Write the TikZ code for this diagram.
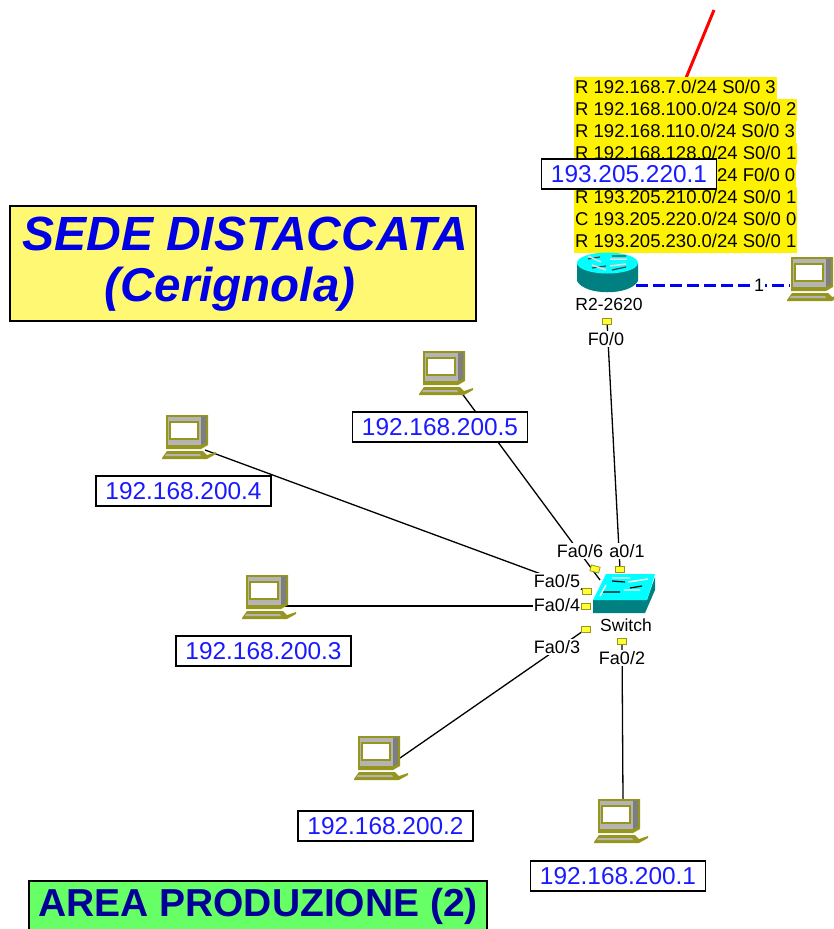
\documentclass[tikz,border=0pt]{standalone}
\usepackage{fontspec}
\setmainfont{Liberation Sans}
\definecolor{pcol}{HTML}{96961E}
\definecolor{pgray}{HTML}{B4B4B4}
\definecolor{teal2}{HTML}{008080}
\definecolor{cyan2}{HTML}{00FFFF}
\definecolor{port}{HTML}{FFFF33}
\definecolor{lblue}{HTML}{1A1AFF}
\tikzset{
  lbl/.style={draw=black,line width=1.6pt,fill=white,text=lblue,font=\fontsize{24.4}{24}\selectfont,minimum width=175pt,minimum height=30pt,inner sep=0pt},
  port label/.style={fill=white,inner sep=1pt,font=\fontsize{18}{18}\selectfont},
  small/.style={inner sep=0pt,font=\fontsize{17.5}{18}\selectfont},
  route/.style={fill=yellow,anchor=north west,inner sep=0pt,inner xsep=1pt,text height=16pt,text depth=6pt,font=\fontsize{18.5}{19}\selectfont},
  portsq/.style={draw=pcol,fill=port,line width=0.8pt,minimum width=9pt,minimum height=6pt,inner sep=0pt},
  wire/.style={line width=1.3pt,black},
  pc/.pic={
    \fill[pcol] (3,0)--(45,0)--(45,30)--(38,34)--(3,34)--cycle;
    \fill[pgray] (5,2)--(38,2)--(38,30)--(5,30)--cycle;
    \fill[pgray!70!black] (38,2)--(43,1)--(43,28)--(38,30)--cycle;
    \fill[pcol] (6,6) rectangle (36,25);
    \fill[white] (8,8) rectangle (34,23);
    \fill[pcol] (-1,43)--(4,36)--(40,36)--(44,40)--(53,37)--(53,39)--(44,44)--(-1,44)--cycle;
    \fill[pgray] (3,39)--(37,39)--(38,41)--(2,41)--cycle;
  }
}
\begin{document}
\begin{tikzpicture}[x=1pt,y=-1pt]
\useasboundingbox (0,0) rectangle (834,929);
\clip (0,0) rectangle (834,929);
% anchors
\coordinate (pc4) at (205,450);
\coordinate (pc5) at (458,388);
\coordinate (pc3) at (285,606);
\coordinate (pc2) at (400,758);
\coordinate (pc1) at (623,800);
\coordinate (pcr) at (790,285);
\coordinate (swa) at (600,580);
\coordinate (swb) at (587,591);
\coordinate (swc) at (586,606);
\coordinate (swd) at (586,629);
\coordinate (swe) at (622,641);
\coordinate (swf) at (620,569);
\coordinate (rt) at (607,321);
\coordinate (rte) at (636,285);
\coordinate (up) at (714,10);
\coordinate (tbl) at (686,78);
% connectors
\draw[red,line width=3pt] (up) -- (tbl);
\draw[wire] (pc5) -- (swa);
\draw[wire] (pc4) -- (swb);
\draw[wire] (pc3) -- (swc);
\draw[wire] (pc2) -- (swd);
\draw[wire] (pc1) -- (swe);
\draw[wire] (rt) -- (swf);
\draw[blue,line width=3pt,dash pattern=on 12pt off 5pt] (rte) -- (pcr);
% routing table
\node[route] (t1) at (574,77) {R 192.168.7.0/24 S0/0 3};
\node[route] (t2) at (574,99) {R 192.168.100.0/24 S0/0 2};
\node[route] (t3) at (574,121) {R 192.168.110.0/24 S0/0 3};
\node[route] (t4) at (574,143) {R 192.168.128.0/24 S0/0 1};
\node[route] (t5) at (574,165) {C 192.168.200.0/24 F0/0 0};
\node[route] (t6) at (574,187) {R 193.205.210.0/24 S0/0 1};
\node[route] (t7) at (574,209) {C 193.205.220.0/24 S0/0 0};
\node[route] (t8) at (574,231) {R 193.205.230.0/24 S0/0 1};
\node[lbl] (ipr) at (629,174) {193.205.220.1};
% router
\fill[teal2] (577,263) -- (577,281) .. controls (585,296) and (630,296) .. (638,281) -- (638,263) -- cycle;
\fill[cyan2] (607.5,263) ellipse[x radius=30.5,y radius=10.5];
\draw[black!75,line width=1.2pt] (588,259)--(600,257) (612,256)--(626,256) (592,268)--(606,266) (612,270)--(626,267);
\draw[white!75!gray,line width=1.5pt] (588,256)--(601,262) (610,259)--(627,259) (592,265)--(606,270) (610,266)--(626,264);
\node[small] (rlabel) at (609,304) {R2-2620};
\node[portsq] (prt) at (607,321) {};
\node[port label] (f00) at (606,339) {F0/0};
% right pc and link label
\pic at (788,257) {pc};
\node[fill=white,inner sep=1pt,font=\fontsize{18}{18}\selectfont] (one) at (759,285) {1};
% switch
\fill[teal2] (593,600) -- (647,600) -- (655,577) -- (655,590) -- (645,613) -- (593,613) -- cycle;
\fill[cyan2] (606,574) -- (655,574) -- (647,600) -- (593,600) -- cycle;
\draw[black,line width=1.2pt] (612,581)--(625,582) (603,592)--(620,592) (630,588)--(642,586);
\draw[white,line width=1.4pt] (628,582)--(648,579) (600,596)--(606,585) (624,590)--(640,590) (612,578)--(630,578);
\node[small] (swl) at (626,625) {Switch};
% ports
\node[portsq,rotate=-15] (p6) at (595,569) {};
\node[portsq] (p1) at (620,569) {};
\node[portsq] (p5) at (587,591) {};
\node[portsq] (p4) at (586,606) {};
\node[portsq] (p3) at (586,629) {};
\node[portsq] (p2) at (622,641) {};
\node[port label] (fa1) at (627,551) {a0/1};
\node[port label] (fa6) at (580,551) {Fa0/6};
\node[port label] (fa5) at (557,581) {Fa0/5};
\node[port label] (fa4) at (557,605) {Fa0/4};
\node[port label] (fa3) at (557,647) {Fa0/3};
\node[port label] (fa2) at (622,658) {Fa0/2};
% pcs
\pic at (163,415) {pc};
\pic at (420,351) {pc};
\pic at (243,575) {pc};
\pic at (355,736) {pc};
\pic at (595,799) {pc};
% labels
\node[lbl] (ip5) at (440,427) {192.168.200.5};
\node[lbl] (ip4) at (183.5,491) {192.168.200.4};
\node[lbl] (ip3) at (263.5,651) {192.168.200.3};
\node[lbl] (ip2) at (385.5,826) {192.168.200.2};
\node[lbl] (ip1) at (618,876) {192.168.200.1};
% titles
\node[draw=black,line width=1.4pt,fill=yellow!55!white,minimum width=466pt,minimum height=115pt,inner sep=0pt] (sede) at (243,263.5) {};
\node[text=blue!90!black,font=\fontsize{48}{48}\selectfont\bfseries\itshape,inner sep=0pt] (s1) at (245,234) {SEDE DISTACCATA};
\node[text=blue!90!black,font=\fontsize{47.5}{48}\selectfont\bfseries\itshape,inner sep=0pt] (s2) at (230,289) {(Cerignola)};
\node[draw=black,line width=1.4pt,fill=green!60!white,minimum width=458pt,minimum height=60pt,inner sep=0pt] (area) at (258,911) {};
\node[text=blue!60!black,font=\fontsize{39}{39}\selectfont\bfseries,inner sep=0pt] (a1) at (258,906) {AREA PRODUZIONE (2)};
\end{tikzpicture}
\end{document}
